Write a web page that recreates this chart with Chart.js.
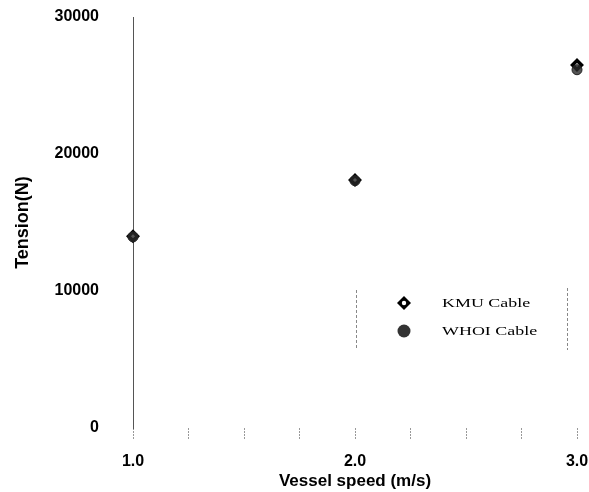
<!DOCTYPE html>
<html>
<head>
<meta charset="utf-8">
<script src="https://cdn.jsdelivr.net/npm/chart.js@4.4.1/dist/chart.umd.min.js"></script>
<style>
  html, body { margin: 0; padding: 0; background: #fff; }
  #wrap { position: relative; width: 589px; height: 492px; }
</style>
</head>
<body>
<div id="wrap"><canvas id="tensionChart" width="589" height="492"></canvas></div>
<script>
const speeds = [1.0, 2.0, 3.0];
const kmuTension = [14000, 18100, 26500];
const whoiTension = [13950, 18050, 26150];
const yTicks = [0, 10000, 20000, 30000];
const xLabels = [1.0, 2.0, 3.0];

const tickFont = { family: "'Liberation Sans', Arial", size: 16, weight: "bold" };

// legend in the lower right, serif text like the plot it came from
const legendBox = {
  id: "legendBox",
  afterDraw(chart) {
    const c = chart.ctx;
    c.save();
    // faint dashed sides of the legend frame
    c.strokeStyle = "#888";
    c.lineWidth = 1;
    c.setLineDash([3, 2]);
    c.beginPath();
    c.moveTo(356.5, 290); c.lineTo(356.5, 350);
    c.moveTo(567.5, 288); c.lineTo(567.5, 350);
    c.stroke();
    c.setLineDash([]);

    // diamond marker
    c.fillStyle = "#000";
    c.beginPath();
    c.moveTo(404, 296); c.lineTo(411, 303); c.lineTo(404, 310); c.lineTo(397, 303);
    c.closePath(); c.fill();
    c.fillStyle = "#fff";
    c.beginPath(); c.arc(404, 303, 2.2, 0, Math.PI * 2); c.fill();

    // round marker
    c.fillStyle = "#333";
    c.beginPath(); c.arc(404, 331, 6.5, 0, Math.PI * 2); c.fill();

    // wide serif labels
    c.fillStyle = "#000";
    c.font = "13px 'Liberation Serif', 'Times New Roman', serif";
    c.textBaseline = "middle";
    c.translate(442, 0);
    c.scale(1.38, 1);
    c.fillText("KMU Cable", 0, 304);
    c.fillText("WHOI Cable", 0, 332);
    c.restore();
  }
};

new Chart(document.getElementById("tensionChart"), {
  type: "scatter",
  data: {
    datasets: [
      {
        label: "KMU Cable",
        data: speeds.map((s, i) => ({ x: s, y: kmuTension[i] })),
        pointStyle: "rectRot",
        pointRadius: 4.5,
        pointBackgroundColor: "#fff",
        pointBorderColor: "#000",
        pointBorderWidth: 3.5,
        clip: false,
        order: 2,
      },
      {
        label: "WHOI Cable",
        data: speeds.map((s, i) => ({ x: s, y: whoiTension[i] })),
        pointStyle: "circle",
        pointRadius: 5,
        pointBackgroundColor: "rgba(40,40,40,0.8)",
        pointBorderColor: "#222",
        pointBorderWidth: 1,
        clip: false,
        order: 1,
      },
    ],
  },
  options: {
    responsive: false,
    animation: false,
    layout: { padding: { top: 17, right: 0, left: 0, bottom: 0 } },
    plugins: { legend: { display: false }, tooltip: { enabled: false } },
    scales: {
      x: {
        type: "linear",
        min: 1,
        max: 3,
        afterFit: (s) => {
          s.height = 64;
          s.paddingLeft = 0;
          s.paddingRight = 12;
        },
        border: { display: false },
        grid: {
          drawOnChartArea: false,
          drawTicks: true,
          tickLength: 12,
          color: "#999",
          tickBorderDash: [2, 1],
        },
        ticks: {
          stepSize: 0.25,
          autoSkip: false,
          maxRotation: 0,
          padding: 12,
          color: "#000",
          font: tickFont,
          callback: (v) => (xLabels.includes(v) ? v.toFixed(1) : ""),
        },
        title: {
          display: true,
          text: "Vessel speed (m/s)",
          color: "#000",
          font: { family: "'Liberation Sans', Arial", size: 17, weight: "bold" },
          padding: { top: 0, bottom: 0 },
        },
      },
      y: {
        min: 0,
        max: 30000,
        afterFit: (s) => { s.width = 133; },
        afterBuildTicks: (s) => { s.ticks = yTicks.map((v) => ({ value: v })); },
        border: { display: true, color: "#555", dash: [5, 1], width: 1 },
        // invisible tick marks keep the labels clear of the axis line
        grid: { drawOnChartArea: false, drawTicks: true, tickLength: 30, tickColor: "rgba(0,0,0,0)" },
        ticks: {
          padding: 4,
          color: "#000",
          font: tickFont,
          callback: (v) => String(v),
        },
        title: {
          display: true,
          text: "Tension(N)",
          color: "#000",
          font: { family: "'Liberation Sans', Arial", size: 18, weight: "bold" },
          padding: { top: 12, bottom: 0 },
        },
      },
    },
  },
  plugins: [legendBox],
});
</script>
</body>
</html>
